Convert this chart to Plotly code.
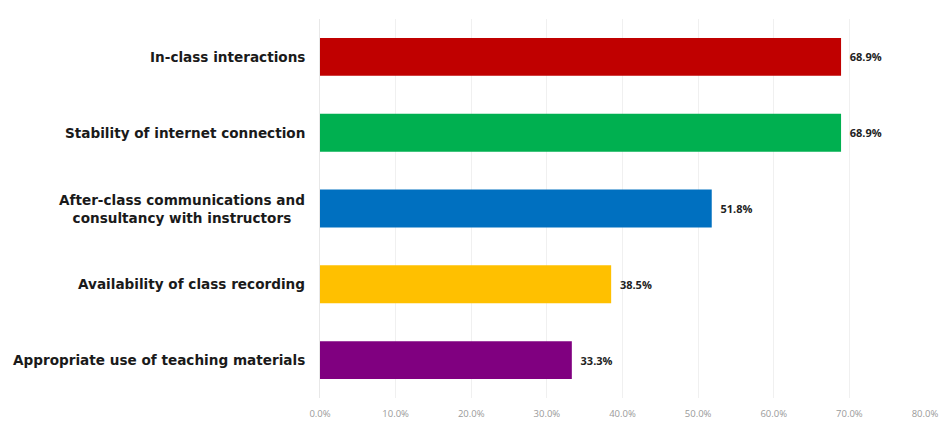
import plotly.graph_objects as go

categories = [
    "In-class interactions",
    "Stability of internet connection",
    "After-class communications and<br>consultancy with instructors",
    "Availability of class recording",
    "Appropriate use of teaching materials",
]
values = [68.9, 68.9, 51.8, 38.5, 33.3]
colors = ["#C00000", "#00B050", "#0070C0", "#FFC000", "#800080"]
tick_vals = [0, 10, 20, 30, 40, 50, 60, 70, 80]
tick_text = ["0.0%", "10.0%", "20.0%", "30.0%", "40.0%", "50.0%", "60.0%", "70.0%", "80.0%"]

fig = go.Figure()
fig.add_trace(go.Bar(
    x=values,
    y=categories,
    orientation="h",
    marker=dict(color=colors, line=dict(width=0)),
    texttemplate="\u00a0\u00a0%{x:.1f}%",
    textposition="outside",
    textfont=dict(family="Open Sans", size=11, color="#222222", weight="bold"),
    cliponaxis=False,
    hoverinfo="skip",
))

for c in categories:
    fig.add_annotation(
        x=0, xref="paper", y=c, yref="y",
        text="<b>" + c + "</b>",
        showarrow=False, xanchor="right", xshift=-13, align="center",
        font=dict(family="DejaVu Sans", size=13.6, color="#1a1a1a"),
    )

fig.update_layout(
    width=939, height=424,
    margin=dict(l=320, r=14, t=19, b=26, autoexpand=False),
    paper_bgcolor="white", plot_bgcolor="white",
    showlegend=False,
    bargap=0.5,
    xaxis=dict(
        range=[0, 80], tickvals=tick_vals, ticktext=tick_text,
        automargin=False, ticklabeloverflow="allow",
        showgrid=True, gridcolor="#f0f0f0", gridwidth=1,
        zeroline=False, showline=False,
        ticklabelstandoff=8,
        tickfont=dict(family="Open Sans", size=9.5, color="#9a9a9a"),
    ),
    yaxis=dict(
        autorange="reversed", showticklabels=False, automargin=False,
        showgrid=False, zeroline=False,
        showline=True, linecolor="#e8e8e8",
    ),
)

fig.write_html(
    "out.html",
    config={"displayModeBar": False},
    post_script="document.body.style.margin='0';document.body.style.overflow='hidden';",
)
